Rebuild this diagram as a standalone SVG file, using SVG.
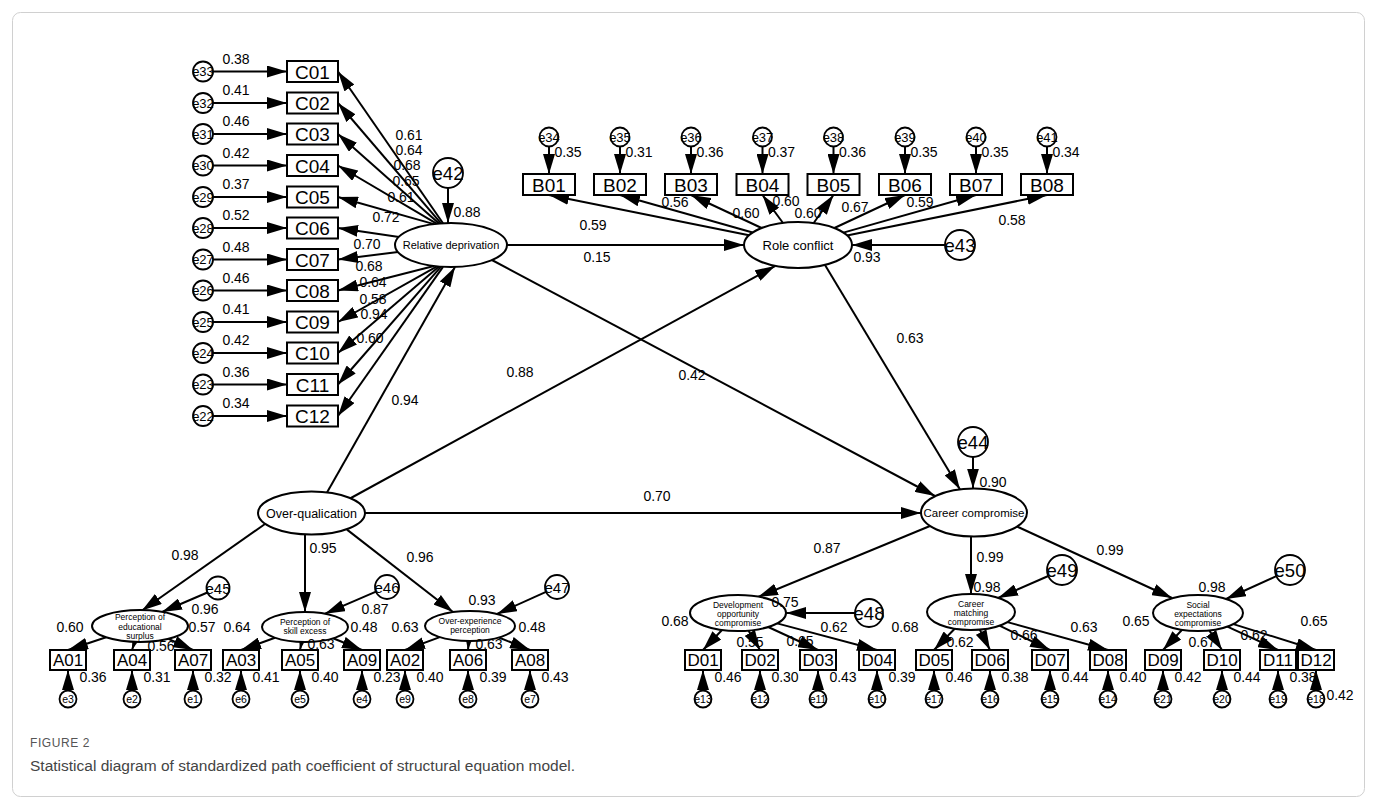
<svg xmlns="http://www.w3.org/2000/svg" width="1377" height="810" viewBox="0 0 1377 810">
<style>
.ln{stroke:#000;stroke-width:2;fill:none;marker-end:url(#ah)}
.bx{fill:#fff;stroke:#000;stroke-width:2}
.el{fill:#fff;stroke:#000;stroke-width:2}
.ec{fill:#fff;stroke:#000;stroke-width:1.8}
text{font-family:"Liberation Sans",Arial,sans-serif;text-anchor:middle;fill:#000}
.v{font-size:14px}
.bt{font-size:19px}
.st{font-size:17px}
.es{font-size:13px}
.eb{font-size:18.5px}
.em{font-size:15px}
.ex{font-size:10.5px}
.sm{font-size:8.5px}
.cap1{font-size:12px;fill:#555;text-anchor:start;letter-spacing:0.6px}
.cap2{font-size:15.5px;fill:#444;text-anchor:start}
</style>
<defs>
<marker id="ah" markerWidth="20" markerHeight="12" refX="20" refY="6" orient="auto" markerUnits="userSpaceOnUse"><path d="M0,0 L20,6 L0,12 z" fill="#000"/></marker>
</defs>
<rect x="12.5" y="12.5" width="1352" height="784" rx="8" fill="#fff" stroke="#d0d0d0" stroke-width="1"/>

<g id="connectors">
<line class="ln" x1="213" y1="71.5" x2="287" y2="71.5"/>
<line class="ln" x1="213" y1="103" x2="287" y2="103"/>
<line class="ln" x1="213" y1="134" x2="287" y2="134"/>
<line class="ln" x1="213" y1="165.5" x2="287" y2="165.5"/>
<line class="ln" x1="213" y1="197" x2="287" y2="197"/>
<line class="ln" x1="213" y1="228" x2="287" y2="228"/>
<line class="ln" x1="213" y1="259.5" x2="287" y2="259.5"/>
<line class="ln" x1="213" y1="290.5" x2="287" y2="290.5"/>
<line class="ln" x1="213" y1="322" x2="287" y2="322"/>
<line class="ln" x1="213" y1="353" x2="287" y2="353"/>
<line class="ln" x1="213" y1="384.5" x2="287" y2="384.5"/>
<line class="ln" x1="213" y1="416" x2="287" y2="416"/>
<line class="ln" x1="443" y1="223.2" x2="338" y2="71.5"/>
<line class="ln" x1="441" y1="223.4" x2="338" y2="103"/>
<line class="ln" x1="439" y1="223.6" x2="338" y2="134"/>
<line class="ln" x1="437" y1="223.9" x2="338" y2="165.5"/>
<line class="ln" x1="434" y1="224.1" x2="338" y2="197"/>
<line class="ln" x1="399" y1="237" x2="338" y2="228"/>
<line class="ln" x1="398" y1="252" x2="338" y2="259.5"/>
<line class="ln" x1="434" y1="266" x2="338" y2="290.5"/>
<line class="ln" x1="437" y1="266.3" x2="338" y2="322"/>
<line class="ln" x1="439" y1="266.5" x2="338" y2="353"/>
<line class="ln" x1="441" y1="266.6" x2="338" y2="384.5"/>
<line class="ln" x1="443" y1="266.8" x2="338" y2="416"/>
<line class="ln" x1="448" y1="188" x2="448" y2="223"/>
<line class="ln" x1="549" y1="146.5" x2="549" y2="174"/>
<line class="ln" x1="620" y1="146.5" x2="620" y2="174"/>
<line class="ln" x1="691" y1="146.5" x2="691" y2="174"/>
<line class="ln" x1="762.5" y1="146.5" x2="762.5" y2="174"/>
<line class="ln" x1="833.5" y1="146.5" x2="833.5" y2="174"/>
<line class="ln" x1="905" y1="146.5" x2="905" y2="174"/>
<line class="ln" x1="976" y1="146.5" x2="976" y2="174"/>
<line class="ln" x1="1047" y1="146.5" x2="1047" y2="174"/>
<line class="ln" x1="749" y1="235.3" x2="549" y2="195"/>
<line class="ln" x1="752.6" y1="232.5" x2="620" y2="195"/>
<line class="ln" x1="761.6" y1="228" x2="691" y2="195"/>
<line class="ln" x1="783" y1="223" x2="762.5" y2="195"/>
<line class="ln" x1="813.7" y1="223" x2="833.5" y2="195"/>
<line class="ln" x1="834.4" y1="228" x2="905" y2="195"/>
<line class="ln" x1="843.4" y1="232.6" x2="976" y2="195"/>
<line class="ln" x1="847" y1="235.4" x2="1047" y2="195"/>
<line class="ln" x1="507" y1="245" x2="744" y2="245"/>
<line class="ln" x1="945" y1="245" x2="852" y2="245"/>
<line class="ln" x1="327" y1="492.5" x2="455" y2="267"/>
<line class="ln" x1="350" y1="498.5" x2="775" y2="266"/>
<line class="ln" x1="365" y1="513" x2="921" y2="513"/>
<line class="ln" x1="490" y1="259" x2="935" y2="496"/>
<line class="ln" x1="825" y1="265" x2="960" y2="489.5"/>
<line class="ln" x1="973" y1="457" x2="973" y2="488.5"/>
<line class="ln" x1="930" y1="526" x2="758" y2="597"/>
<line class="ln" x1="971" y1="536.5" x2="971" y2="594"/>
<line class="ln" x1="1017" y1="526.5" x2="1172" y2="598"/>
<line class="ln" x1="855" y1="613" x2="786" y2="613"/>
<line class="ln" x1="1048.3" y1="576" x2="998" y2="598"/>
<line class="ln" x1="1276.3" y1="576.2" x2="1226" y2="599"/>
<line class="ln" x1="265" y1="524" x2="142" y2="610.5"/>
<line class="ln" x1="305" y1="534.5" x2="305" y2="612"/>
<line class="ln" x1="347" y1="529.6" x2="453" y2="612"/>
<line class="ln" x1="207.4" y1="592.5" x2="162" y2="612"/>
<line class="ln" x1="376" y1="591.7" x2="325" y2="613.7"/>
<line class="ln" x1="546" y1="591.8" x2="497" y2="614"/>
<line class="ln" x1="106.1" y1="637.3" x2="68" y2="650"/>
<line class="ln" x1="134.7" y1="641.9" x2="132" y2="650"/>
<line class="ln" x1="168.5" y1="638.9" x2="193" y2="650"/>
<line class="ln" x1="275" y1="637.8" x2="241" y2="650"/>
<line class="ln" x1="301.7" y1="642" x2="300" y2="650"/>
<line class="ln" x1="333.1" y1="638.3" x2="362" y2="650"/>
<line class="ln" x1="439.8" y1="637.1" x2="405" y2="650"/>
<line class="ln" x1="468.8" y1="641" x2="468" y2="650"/>
<line class="ln" x1="498.8" y1="637.5" x2="530" y2="650"/>
<line class="ln" x1="722" y1="630" x2="703" y2="650"/>
<line class="ln" x1="748.4" y1="630.6" x2="760" y2="650"/>
<line class="ln" x1="768.2" y1="627" x2="818" y2="650"/>
<line class="ln" x1="777.1" y1="623.4" x2="877" y2="650"/>
<line class="ln" x1="954.7" y1="628.7" x2="934" y2="650"/>
<line class="ln" x1="979.8" y1="629.6" x2="990" y2="650"/>
<line class="ln" x1="999.5" y1="625.7" x2="1050" y2="650"/>
<line class="ln" x1="1007.4" y1="622.1" x2="1108" y2="650"/>
<line class="ln" x1="1182.1" y1="629.8" x2="1163" y2="650"/>
<line class="ln" x1="1209.3" y1="630.4" x2="1222" y2="650"/>
<line class="ln" x1="1227.4" y1="626.6" x2="1278" y2="650"/>
<line class="ln" x1="1233.4" y1="624.1" x2="1316" y2="650"/>
<line class="ln" x1="68" y1="690.5" x2="68" y2="670"/>
<line class="ln" x1="132" y1="690.5" x2="132" y2="670"/>
<line class="ln" x1="193" y1="690.5" x2="193" y2="670"/>
<line class="ln" x1="241" y1="690.5" x2="241" y2="670"/>
<line class="ln" x1="300" y1="690.5" x2="300" y2="670"/>
<line class="ln" x1="362" y1="690.5" x2="362" y2="670"/>
<line class="ln" x1="405" y1="690.5" x2="405" y2="670"/>
<line class="ln" x1="468" y1="690.5" x2="468" y2="670"/>
<line class="ln" x1="530" y1="690.5" x2="530" y2="670"/>
<line class="ln" x1="703" y1="690.5" x2="703" y2="670"/>
<line class="ln" x1="760" y1="690.5" x2="760" y2="670"/>
<line class="ln" x1="818" y1="690.5" x2="818" y2="670"/>
<line class="ln" x1="877" y1="690.5" x2="877" y2="670"/>
<line class="ln" x1="934" y1="690.5" x2="934" y2="670"/>
<line class="ln" x1="990" y1="690.5" x2="990" y2="670"/>
<line class="ln" x1="1050" y1="690.5" x2="1050" y2="670"/>
<line class="ln" x1="1108" y1="690.5" x2="1108" y2="670"/>
<line class="ln" x1="1163" y1="690.5" x2="1163" y2="670"/>
<line class="ln" x1="1222" y1="690.5" x2="1222" y2="670"/>
<line class="ln" x1="1278" y1="690.5" x2="1278" y2="670"/>
<line class="ln" x1="1316" y1="690.5" x2="1316" y2="670"/>
</g>

<g id="C01"><circle class="ec" cx="203" cy="71.5" r="10"/><text class="es" x="203" y="76">e33</text><rect class="bx" x="287" y="61" width="51" height="21"/><text class="bt" x="312.5" y="78.5">C01</text></g>
<g id="C02"><circle class="ec" cx="203" cy="103" r="10"/><text class="es" x="203" y="107.5">e32</text><rect class="bx" x="287" y="92.5" width="51" height="21"/><text class="bt" x="312.5" y="110">C02</text></g>
<g id="C03"><circle class="ec" cx="203" cy="134" r="10"/><text class="es" x="203" y="138.5">e31</text><rect class="bx" x="287" y="123.5" width="51" height="21"/><text class="bt" x="312.5" y="141">C03</text></g>
<g id="C04"><circle class="ec" cx="203" cy="165.5" r="10"/><text class="es" x="203" y="170">e30</text><rect class="bx" x="287" y="155" width="51" height="21"/><text class="bt" x="312.5" y="172.5">C04</text></g>
<g id="C05"><circle class="ec" cx="203" cy="197" r="10"/><text class="es" x="203" y="201.5">e29</text><rect class="bx" x="287" y="186.5" width="51" height="21"/><text class="bt" x="312.5" y="204">C05</text></g>
<g id="C06"><circle class="ec" cx="203" cy="228" r="10"/><text class="es" x="203" y="232.5">e28</text><rect class="bx" x="287" y="217.5" width="51" height="21"/><text class="bt" x="312.5" y="235">C06</text></g>
<g id="C07"><circle class="ec" cx="203" cy="259.5" r="10"/><text class="es" x="203" y="264">e27</text><rect class="bx" x="287" y="249" width="51" height="21"/><text class="bt" x="312.5" y="266.5">C07</text></g>
<g id="C08"><circle class="ec" cx="203" cy="290.5" r="10"/><text class="es" x="203" y="295">e26</text><rect class="bx" x="287" y="280" width="51" height="21"/><text class="bt" x="312.5" y="297.5">C08</text></g>
<g id="C09"><circle class="ec" cx="203" cy="322" r="10"/><text class="es" x="203" y="326.5">e25</text><rect class="bx" x="287" y="311.5" width="51" height="21"/><text class="bt" x="312.5" y="329">C09</text></g>
<g id="C10"><circle class="ec" cx="203" cy="353" r="10"/><text class="es" x="203" y="357.5">e24</text><rect class="bx" x="287" y="342.5" width="51" height="21"/><text class="bt" x="312.5" y="360">C10</text></g>
<g id="C11"><circle class="ec" cx="203" cy="384.5" r="10"/><text class="es" x="203" y="389">e23</text><rect class="bx" x="287" y="374" width="51" height="21"/><text class="bt" x="312.5" y="391.5">C11</text></g>
<g id="C12"><circle class="ec" cx="203" cy="416" r="10"/><text class="es" x="203" y="420.5">e22</text><rect class="bx" x="287" y="405.5" width="51" height="21"/><text class="bt" x="312.5" y="423">C12</text></g>

<g id="B01"><circle class="ec" cx="549" cy="137" r="9.5"/><text class="es" x="549" y="141.5">e34</text><rect class="bx" x="523" y="174" width="52" height="21"/><text class="bt" x="549" y="191.5">B01</text></g>
<g id="B02"><circle class="ec" cx="620" cy="137" r="9.5"/><text class="es" x="620" y="141.5">e35</text><rect class="bx" x="594" y="174" width="52" height="21"/><text class="bt" x="620" y="191.5">B02</text></g>
<g id="B03"><circle class="ec" cx="691" cy="137" r="9.5"/><text class="es" x="691" y="141.5">e36</text><rect class="bx" x="665" y="174" width="52" height="21"/><text class="bt" x="691" y="191.5">B03</text></g>
<g id="B04"><circle class="ec" cx="762.5" cy="137" r="9.5"/><text class="es" x="762.5" y="141.5">e37</text><rect class="bx" x="736.5" y="174" width="52" height="21"/><text class="bt" x="762.5" y="191.5">B04</text></g>
<g id="B05"><circle class="ec" cx="833.5" cy="137" r="9.5"/><text class="es" x="833.5" y="141.5">e38</text><rect class="bx" x="807.5" y="174" width="52" height="21"/><text class="bt" x="833.5" y="191.5">B05</text></g>
<g id="B06"><circle class="ec" cx="905" cy="137" r="9.5"/><text class="es" x="905" y="141.5">e39</text><rect class="bx" x="879" y="174" width="52" height="21"/><text class="bt" x="905" y="191.5">B06</text></g>
<g id="B07"><circle class="ec" cx="976" cy="137" r="9.5"/><text class="es" x="976" y="141.5">e40</text><rect class="bx" x="950" y="174" width="52" height="21"/><text class="bt" x="976" y="191.5">B07</text></g>
<g id="B08"><circle class="ec" cx="1047" cy="137" r="9.5"/><text class="es" x="1047" y="141.5">e41</text><rect class="bx" x="1021" y="174" width="52" height="21"/><text class="bt" x="1047" y="191.5">B08</text></g>

<g id="relative-deprivation"><ellipse class="el" cx="451" cy="245" rx="56" ry="22"/><text x="451" y="249" style="font-size:11px">Relative deprivation</text></g>
<g id="e42"><circle class="ec" cx="448" cy="173" r="15"/><text class="eb" x="448" y="179.5">e42</text></g>
<g id="role-conflict"><ellipse class="el" cx="798" cy="245" rx="54" ry="23"/><text x="798" y="249.5" style="font-size:13px">Role conflict</text></g>
<g id="e43"><circle class="ec" cx="960" cy="245" r="15"/><text class="eb" x="960" y="251.5">e43</text></g>
<g id="over-qualication"><ellipse class="el" cx="311.5" cy="513" rx="53.5" ry="21.5"/><text x="311.5" y="517.5" style="font-size:12.5px">Over-qualication</text></g>
<g id="career-compromise"><ellipse class="el" cx="974" cy="512.5" rx="53" ry="24"/><text x="974" y="516.5" style="font-size:11.5px">Career compromise</text></g>
<g id="e44"><circle class="ec" cx="973" cy="442" r="15"/><text class="eb" x="973" y="448.5">e44</text></g>

<g id="PES"><ellipse class="el" cx="140" cy="626" rx="48" ry="16"/><text class="sm" x="140" y="620">Perception of</text><text class="sm" x="140" y="629.5">educational</text><text class="sm" x="140" y="639">surplus</text></g>
<g id="e45"><circle class="ec" cx="218" cy="588" r="11.5"/><text class="em" x="218" y="593.5">e45</text></g>
<g id="PSE"><ellipse class="el" cx="305" cy="627" rx="43" ry="15"/><text class="sm" x="305" y="624.5">Perception of</text><text class="sm" x="305" y="634">skill excess</text></g>
<g id="e46"><circle class="ec" cx="387" cy="587" r="12"/><text class="em" x="387" y="592.5">e46</text></g>
<g id="OEP"><ellipse class="el" cx="470" cy="626" rx="45" ry="15"/><text class="sm" x="470" y="623.5">Over-experience</text><text class="sm" x="470" y="633">perception</text></g>
<g id="e47"><circle class="ec" cx="557" cy="587" r="12"/><text class="em" x="557" y="592.5">e47</text></g>

<g id="DOC"><ellipse class="el" cx="738" cy="613" rx="48" ry="18"/><text class="sm" x="738" y="607.5">Development</text><text class="sm" x="738" y="616.5">opportunity</text><text class="sm" x="738" y="625.5">compromise</text></g>
<g id="e48"><circle class="ec" cx="869" cy="613" r="14"/><text class="eb" x="869" y="619.5">e48</text></g>
<g id="CMC"><ellipse class="el" cx="971" cy="612" rx="44" ry="18"/><text class="sm" x="971" y="606.5">Career</text><text class="sm" x="971" y="615.5">matching</text><text class="sm" x="971" y="624.5">compromise</text></g>
<g id="e49"><circle class="ec" cx="1062" cy="570" r="15"/><text class="eb" x="1062" y="576.5">e49</text></g>
<g id="SEC"><ellipse class="el" cx="1198" cy="613" rx="45" ry="18"/><text class="sm" x="1198" y="607.5">Social</text><text class="sm" x="1198" y="616.5">expectations</text><text class="sm" x="1198" y="625.5">compromise</text></g>
<g id="e50"><circle class="ec" cx="1290" cy="570" r="15"/><text class="eb" x="1290" y="576.5">e50</text></g>

<g id="A01"><rect class="bx" x="50" y="650" width="36" height="20"/><text class="st" x="68" y="666">A01</text><circle class="ec" cx="68" cy="699" r="8.5"/><text class="ex" x="68" y="702.5">e3</text></g>
<g id="A04"><rect class="bx" x="114" y="650" width="36" height="20"/><text class="st" x="132" y="666">A04</text><circle class="ec" cx="132" cy="699" r="8.5"/><text class="ex" x="132" y="702.5">e2</text></g>
<g id="A07"><rect class="bx" x="175" y="650" width="36" height="20"/><text class="st" x="193" y="666">A07</text><circle class="ec" cx="193" cy="699" r="8.5"/><text class="ex" x="193" y="702.5">e1</text></g>
<g id="A03"><rect class="bx" x="223" y="650" width="36" height="20"/><text class="st" x="241" y="666">A03</text><circle class="ec" cx="241" cy="699" r="8.5"/><text class="ex" x="241" y="702.5">e6</text></g>
<g id="A05"><rect class="bx" x="282" y="650" width="36" height="20"/><text class="st" x="300" y="666">A05</text><circle class="ec" cx="300" cy="699" r="8.5"/><text class="ex" x="300" y="702.5">e5</text></g>
<g id="A09"><rect class="bx" x="344" y="650" width="36" height="20"/><text class="st" x="362" y="666">A09</text><circle class="ec" cx="362" cy="699" r="8.5"/><text class="ex" x="362" y="702.5">e4</text></g>
<g id="A02"><rect class="bx" x="387" y="650" width="36" height="20"/><text class="st" x="405" y="666">A02</text><circle class="ec" cx="405" cy="699" r="8.5"/><text class="ex" x="405" y="702.5">e9</text></g>
<g id="A06"><rect class="bx" x="450" y="650" width="36" height="20"/><text class="st" x="468" y="666">A06</text><circle class="ec" cx="468" cy="699" r="8.5"/><text class="ex" x="468" y="702.5">e8</text></g>
<g id="A08"><rect class="bx" x="512" y="650" width="36" height="20"/><text class="st" x="530" y="666">A08</text><circle class="ec" cx="530" cy="699" r="8.5"/><text class="ex" x="530" y="702.5">e7</text></g>

<g id="D01"><rect class="bx" x="685" y="650" width="36" height="20"/><text class="st" x="703" y="666">D01</text><circle class="ec" cx="703" cy="699" r="8.5"/><text class="ex" x="703" y="702.5">e13</text></g>
<g id="D02"><rect class="bx" x="742" y="650" width="36" height="20"/><text class="st" x="760" y="666">D02</text><circle class="ec" cx="760" cy="699" r="8.5"/><text class="ex" x="760" y="702.5">e12</text></g>
<g id="D03"><rect class="bx" x="800" y="650" width="36" height="20"/><text class="st" x="818" y="666">D03</text><circle class="ec" cx="818" cy="699" r="8.5"/><text class="ex" x="818" y="702.5">e11</text></g>
<g id="D04"><rect class="bx" x="859" y="650" width="36" height="20"/><text class="st" x="877" y="666">D04</text><circle class="ec" cx="877" cy="699" r="8.5"/><text class="ex" x="877" y="702.5">e10</text></g>
<g id="D05"><rect class="bx" x="916" y="650" width="36" height="20"/><text class="st" x="934" y="666">D05</text><circle class="ec" cx="934" cy="699" r="8.5"/><text class="ex" x="934" y="702.5">e17</text></g>
<g id="D06"><rect class="bx" x="972" y="650" width="36" height="20"/><text class="st" x="990" y="666">D06</text><circle class="ec" cx="990" cy="699" r="8.5"/><text class="ex" x="990" y="702.5">e16</text></g>
<g id="D07"><rect class="bx" x="1032" y="650" width="36" height="20"/><text class="st" x="1050" y="666">D07</text><circle class="ec" cx="1050" cy="699" r="8.5"/><text class="ex" x="1050" y="702.5">e15</text></g>
<g id="D08"><rect class="bx" x="1090" y="650" width="36" height="20"/><text class="st" x="1108" y="666">D08</text><circle class="ec" cx="1108" cy="699" r="8.5"/><text class="ex" x="1108" y="702.5">e14</text></g>
<g id="D09"><rect class="bx" x="1145" y="650" width="36" height="20"/><text class="st" x="1163" y="666">D09</text><circle class="ec" cx="1163" cy="699" r="8.5"/><text class="ex" x="1163" y="702.5">e21</text></g>
<g id="D10"><rect class="bx" x="1204" y="650" width="36" height="20"/><text class="st" x="1222" y="666">D10</text><circle class="ec" cx="1222" cy="699" r="8.5"/><text class="ex" x="1222" y="702.5">e20</text></g>
<g id="D11"><rect class="bx" x="1260" y="650" width="36" height="20"/><text class="st" x="1278" y="666">D11</text><circle class="ec" cx="1278" cy="699" r="8.5"/><text class="ex" x="1278" y="702.5">e19</text></g>
<g id="D12"><rect class="bx" x="1298" y="650" width="36" height="20"/><text class="st" x="1316" y="666">D12</text><circle class="ec" cx="1316" cy="699" r="8.5"/><text class="ex" x="1316" y="702.5">e18</text></g>

<g id="path-labels">
<text class="v" x="236" y="63.5">0.38</text>
<text class="v" x="236" y="95">0.41</text>
<text class="v" x="236" y="126">0.46</text>
<text class="v" x="236" y="157.5">0.42</text>
<text class="v" x="236" y="189">0.37</text>
<text class="v" x="236" y="220">0.52</text>
<text class="v" x="236" y="251.5">0.48</text>
<text class="v" x="236" y="282.5">0.46</text>
<text class="v" x="236" y="314">0.41</text>
<text class="v" x="236" y="345">0.42</text>
<text class="v" x="236" y="376.5">0.36</text>
<text class="v" x="236" y="408">0.34</text>
<text class="v" x="409" y="140">0.61</text>
<text class="v" x="409" y="155">0.64</text>
<text class="v" x="407" y="170">0.68</text>
<text class="v" x="406" y="186">0.65</text>
<text class="v" x="401" y="202">0.61</text>
<text class="v" x="386" y="222">0.72</text>
<text class="v" x="367" y="249">0.70</text>
<text class="v" x="369" y="271">0.68</text>
<text class="v" x="373" y="287">0.64</text>
<text class="v" x="373" y="304">0.58</text>
<text class="v" x="374" y="319">0.94</text>
<text class="v" x="370" y="343">0.60</text>
<text class="v" x="467" y="217">0.88</text>
<text class="v" x="568" y="157">0.35</text>
<text class="v" x="639" y="157">0.31</text>
<text class="v" x="710" y="157">0.36</text>
<text class="v" x="781.5" y="157">0.37</text>
<text class="v" x="852.5" y="157">0.36</text>
<text class="v" x="924" y="157">0.35</text>
<text class="v" x="995" y="157">0.35</text>
<text class="v" x="1066" y="157">0.34</text>
<text class="v" x="593" y="230">0.59</text>
<text class="v" x="675" y="207">0.56</text>
<text class="v" x="746" y="218">0.60</text>
<text class="v" x="786" y="206">0.60</text>
<text class="v" x="808" y="218">0.60</text>
<text class="v" x="855" y="212">0.67</text>
<text class="v" x="920" y="207">0.59</text>
<text class="v" x="1012" y="225">0.58</text>
<text class="v" x="597" y="262">0.15</text>
<text class="v" x="867" y="262">0.93</text>
<text class="v" x="405" y="405">0.94</text>
<text class="v" x="520" y="377">0.88</text>
<text class="v" x="692" y="380">0.42</text>
<text class="v" x="910" y="343">0.63</text>
<text class="v" x="657" y="501">0.70</text>
<text class="v" x="993" y="487">0.90</text>
<text class="v" x="185" y="560">0.98</text>
<text class="v" x="323" y="553">0.95</text>
<text class="v" x="420" y="562">0.96</text>
<text class="v" x="827" y="553">0.87</text>
<text class="v" x="990" y="562">0.99</text>
<text class="v" x="1110" y="555">0.99</text>
<text class="v" x="205" y="614">0.96</text>
<text class="v" x="375" y="614">0.87</text>
<text class="v" x="482" y="605">0.93</text>
<text class="v" x="785" y="607">0.75</text>
<text class="v" x="987" y="592">0.98</text>
<text class="v" x="1212" y="592">0.98</text>
<text class="v" x="70" y="632">0.60</text>
<text class="v" x="161" y="651">0.56</text>
<text class="v" x="202" y="632">0.57</text>
<text class="v" x="237" y="632">0.64</text>
<text class="v" x="321" y="649">0.63</text>
<text class="v" x="364" y="632">0.48</text>
<text class="v" x="405" y="632">0.63</text>
<text class="v" x="489" y="649">0.63</text>
<text class="v" x="532" y="632">0.48</text>
<text class="v" x="675" y="626">0.68</text>
<text class="v" x="750" y="647">0.55</text>
<text class="v" x="800" y="646">0.65</text>
<text class="v" x="834" y="632">0.62</text>
<text class="v" x="905" y="632">0.68</text>
<text class="v" x="960" y="647">0.62</text>
<text class="v" x="1024" y="640">0.66</text>
<text class="v" x="1084" y="632">0.63</text>
<text class="v" x="1136" y="626">0.65</text>
<text class="v" x="1202" y="647">0.67</text>
<text class="v" x="1254" y="640">0.62</text>
<text class="v" x="1314" y="626">0.65</text>
<text class="v" x="93" y="682">0.36</text>
<text class="v" x="157" y="682">0.31</text>
<text class="v" x="218" y="682">0.32</text>
<text class="v" x="266" y="682">0.41</text>
<text class="v" x="325" y="682">0.40</text>
<text class="v" x="387" y="682">0.23</text>
<text class="v" x="430" y="682">0.40</text>
<text class="v" x="493" y="682">0.39</text>
<text class="v" x="555" y="682">0.43</text>
<text class="v" x="728" y="682">0.46</text>
<text class="v" x="785" y="682">0.30</text>
<text class="v" x="843" y="682">0.43</text>
<text class="v" x="902" y="682">0.39</text>
<text class="v" x="959" y="682">0.46</text>
<text class="v" x="1015" y="682">0.38</text>
<text class="v" x="1075" y="682">0.44</text>
<text class="v" x="1133" y="682">0.40</text>
<text class="v" x="1188" y="682">0.42</text>
<text class="v" x="1247" y="682">0.44</text>
<text class="v" x="1303" y="682">0.38</text>
<text class="v" x="1340" y="700">0.42</text>
</g>

<g id="caption">
<text class="cap1" x="30" y="747">FIGURE 2</text>
<text class="cap2" x="30" y="771">Statistical diagram of standardized path coefficient of structural equation model.</text>
</g>
</svg>
